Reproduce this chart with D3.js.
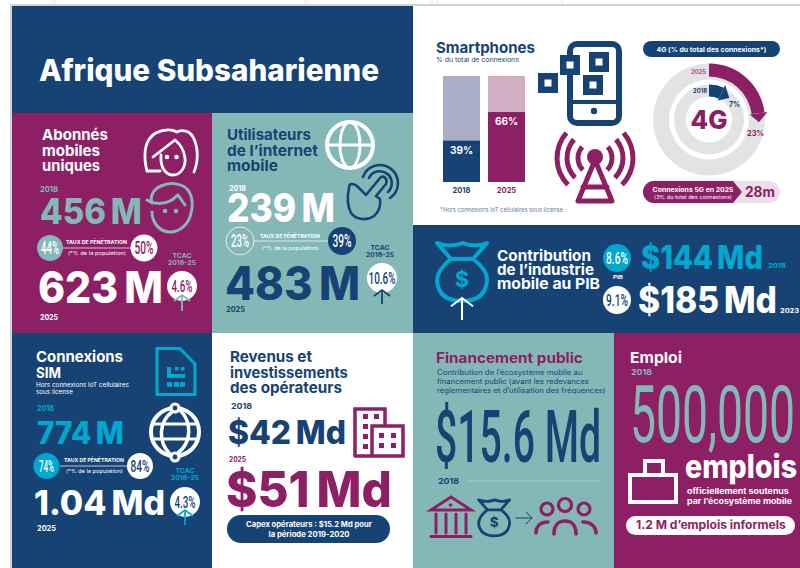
<!DOCTYPE html>
<html lang="fr">
<head>
<meta charset="UTF-8">
<title>Afrique Subsaharienne</title>
<script src="https://d3js.org/d3.v7.min.js"></script>
<style>
  html, body { margin: 0; padding: 0; background: #fff; overflow: hidden; }
  svg { display: block; }
</style>
</head>
<body>
<script>
// values
var smartphoneYears = ['2018', '2025'];
var smartphoneShare = [39, 66];
var fourGYears = ['2018', '2025'];
var fourGShare = [7, 23];
var subscribers = ['456 M', '623 M'];
var subscriberPenetration = ['44%', '50%'];
var internetUsers = ['239 M', '483 M'];
var internetPenetration = ['23%', '39%'];
var simConnections = ['774 M', '1.04 Md'];
var simPenetration = ['74%', '84%'];
var cagr = ['4.6%', '10.6%', '4.3%'];
var gdpContribution = ['$144 Md', '$185 Md'];
var gdpShare = ['8.6%', '9.1%'];
var gdpYears = ['2018', '2023'];
var operatorRevenue = ['$42 Md', '$51 Md'];

var navy = '#164374', purple = '#8d2065', teal = '#84b8b6', cyan = '#00a8d0', white = '#fff';
var wide = 'Inter, "Open Sans", sans-serif';
var narrow = 'Roboto, sans-serif';

var svg = d3.select('body').append('svg').attr('width', 800).attr('height', 568);

function rect(x, y, w, h, fill, g) {
  return (g || svg).append('rect').attr('x', x).attr('y', y).attr('width', w).attr('height', h).attr('fill', fill);
}
// w = width of the text in the picture, the text is squeezed or stretched to fit it
function txt(x, y, s, size, fill, w, o) {
  o = o || {};
  var t = (o.g || svg).append('text').text(s)
    .attr('font-size', size).attr('fill', fill)
    .attr('font-family', o.font || wide)
    .attr('font-weight', o.weight || 700)
    .attr('text-anchor', o.anchor || 'start');
  var k = w ? w / t.node().getComputedTextLength() : 1;
  t.attr('transform', 'translate(' + x + ',' + y + ') scale(' + k.toFixed(3) + ',1)');
  return t;
}
// big figures: heavy, with a short word gap
function big(x, y, s, size, fill, w) {
  return txt(x, y, s.replace(' ', '\u2009'), size, fill, w, { weight: 800 });
}
function badge(cx, cy, r, fill, stroke, s, color, w, size) {
  svg.append('circle').attr('cx', cx).attr('cy', cy).attr('r', r)
    .attr('fill', fill).attr('stroke', stroke || 'none').attr('stroke-width', 0.8);
  txt(cx, cy + size * 0.36, s, size, color, w, { font: narrow, weight: 500, anchor: 'middle' });
}
function line(x1, y1, x2, y2, color, sw) {
  svg.append('line').attr('x1', x1).attr('y1', y1).attr('x2', x2).attr('y2', y2)
    .attr('stroke', color).attr('stroke-width', sw || 1);
}
function icon(d, color, sw, fill) {
  return svg.append('path').attr('d', d).attr('stroke', color).attr('stroke-width', sw)
    .attr('fill', fill || 'none').attr('stroke-linejoin', 'round').attr('stroke-linecap', 'round');
}
function dot(x, y, r, color) {
  svg.append('circle').attr('cx', x).attr('cy', y).attr('r', r).attr('fill', color);
}
function upArrow(x, y1, y2, hw, color, sw) {
  icon('M' + x + ',' + y1 + 'V' + y2 + 'M' + (x - hw) + ',' + (y2 + hw * 0.75) + 'L' + x + ',' + y2 + 'L' + (x + hw) + ',' + (y2 + hw * 0.75), color, sw || 1.5)
    .attr('stroke-linecap', 'butt').attr('stroke-linejoin', 'miter');
}
function penetration(x1, x2, lineX1, lineX2, y, yTop, yBottom, color) {
  line(lineX1, y, lineX2, y, color, 0.7);
  txt(x1, yTop, 'TAUX DE PÉNÉTRATION', 5, color, x2 - x1);
  txt(x1 + 2, yBottom, '(*% de la population)', 5, color, x2 - x1 - 3, { weight: 400 });
}
function tcac(cx, y, color) {
  txt(cx, y, 'TCAC', 6, color, 19, { anchor: 'middle' });
  txt(cx, y + 7, '2018–25', 6, color, 28, { anchor: 'middle' });
}
function bag(x, y, s, color, sw, dollarColor) {
  var g = svg.append('g').attr('transform', 'translate(' + x + ',' + y + ') scale(' + s + ')');
  g.append('path')
    .attr('d', 'M1,3 Q14,8 27,3 Q39,8 51,3 L37,19 Q52,30 51,41 Q49,61 26,61 Q3,61 1,41 Q1,30 15,19 Z M15,19 H37')
    .attr('fill', 'none').attr('stroke', color).attr('stroke-width', sw).attr('stroke-linejoin', 'round');
  txt(26, 47, '$', 22, dollarColor || color, null, { g: g, anchor: 'middle' });
}

// background, scan edges
[52, 55, 305, 308, 432, 437, 562].forEach(function (x) { line(x, 0, x, 5, '#e3e3e3', 1); });
rect(10, 4, 790, 2, '#d2d2d2');
rect(10, 4, 2, 564, '#d2d2d2');

// panels
rect(12, 6, 401, 107, navy);
rect(12, 113, 200, 220, purple);
rect(212, 113, 201, 220, teal);
rect(12, 333, 200, 235, navy);
rect(212, 333, 201, 235, white);
rect(413, 225, 387, 108, navy);
rect(413, 333, 201, 235, teal);
rect(614, 333, 186, 235, purple);

txt(39, 81, 'Afrique Subsaharienne', 30, white, 340, { weight: 800 });

// Abonnés mobiles uniques
txt(42, 140, 'Abonnés', 15, white, 66);
txt(42, 156, 'mobiles', 15, white, 58);
txt(42, 171, 'uniques', 15, white, 58);
icon('M147,171 C143,156 145,143 151,137 C157,130 170,128 177,132 C182,129 190,131 193,137 C198,146 199,160 194,172', white, 2.8);
icon('M153,157 L175,140 C180,144 184,150 185,158 C186,168 180,175 173,175 C166,175 160,168 161,155 M147,171 H160', white, 2.8);
dot(167, 157, 2.3, white);
dot(176.5, 157, 2.3, white);

txt(40, 192, '2018', 7.5, teal, 18);
big(40, 224, subscribers[0], 36, teal, 102);
icon('M152,203 C149,194 156,187 164,185 C172,182 183,184 188,190 C193,197 193,207 191,213 C189,224 180,232 170,232 C160,232 152,223 152,212', teal, 3);
icon('M147,200 C153,204 163,205 172,200 L178,195 L185,205', teal, 3);
dot(165, 211, 2.3, teal);
dot(176, 211, 2.3, teal);

penetration(66, 127, 60, 132, 248, 244, 255, white);
badge(50, 248, 13, teal, null, subscriberPenetration[0], white, 18, 18);
badge(144, 248, 13.5, white, null, subscriberPenetration[1], purple, 19, 18);
tcac(182, 258, teal);
big(38, 303, subscribers[1], 44, white, 125);
badge(182, 286, 15, white, null, cagr[0], purple, 21, 17);
upArrow(182, 311, 295, 8, teal, 1.8);
txt(40, 320, '2025', 7.5, white, 18);

// Utilisateurs de l'internet mobile
txt(227, 140, 'Utilisateurs', 15, navy, 84);
txt(227, 156, 'de l’internet', 15, navy, 91);
txt(227, 171, 'mobile', 15, navy, 51);
svg.append('circle').attr('cx', 350).attr('cy', 145).attr('r', 23).attr('fill', 'none').attr('stroke', white).attr('stroke-width', 4);
svg.append('ellipse').attr('cx', 350).attr('cy', 145).attr('rx', 10).attr('ry', 23).attr('fill', 'none').attr('stroke', white).attr('stroke-width', 3);
line(327, 145, 373, 145, white, 3);

icon('M390,198 A18,18 0 1 0 363,177', navy, 2.6);
icon('M388,192 A12,12 0 1 0 369,178', navy, 2.6);
icon('M380,178 L366,195 L357,186 C353,183 349,183 349,188 C347,197 348,207 351,213 C356,220 367,221 374,216 C379,212 381,205 380,199 L376,196 L386,184 C388,178 383,175 380,178 Z', navy, 2.6, teal);

txt(229, 191, '2018', 7.5, white, 17);
big(227, 222, internetUsers[0], 40, white, 108);
penetration(260, 320, 254, 328, 241, 238, 250, white);
badge(240, 241, 14, teal, white, internetPenetration[0], white, 18, 18);
badge(342, 241, 14, navy, null, internetPenetration[1], white, 19, 18);
tcac(380, 250, navy);
big(225, 300, internetUsers[1], 46, navy, 135);
badge(382, 278, 15, white, null, cagr[1], navy, 27, 17);
upArrow(382, 304, 290, 8, navy, 1.8);
txt(226, 312, '2025', 7.5, navy, 19);

// Smartphones
txt(436, 53, 'Smartphones', 15, navy, 99);
txt(436, 62, '% du total de connexions', 6.5, navy, 83, { weight: 400 });

var barX = d3.scaleBand().domain(smartphoneYears).range([443, 525]).paddingInner(8 / 45);
var barY = d3.scaleLinear().domain([0, 100]).range([182, 76]);
var barBack = ['#a9aec6', '#d3afc3'];
var barFront = [navy, purple];
svg.selectAll('.bar-back').data(smartphoneYears).enter().append('rect')
  .attr('class', 'bar-back')
  .attr('x', function (d) { return barX(d); })
  .attr('y', barY(100))
  .attr('width', barX.bandwidth())
  .attr('height', barY(0) - barY(100))
  .attr('fill', function (d, i) { return barBack[i]; });
svg.selectAll('.bar').data(smartphoneShare).enter().append('rect')
  .attr('class', 'bar')
  .attr('x', function (d, i) { return barX(smartphoneYears[i]); })
  .attr('y', function (d) { return barY(d); })
  .attr('width', barX.bandwidth())
  .attr('height', function (d) { return barY(0) - barY(d); })
  .attr('fill', function (d, i) { return barFront[i]; });
svg.selectAll('.bar-label').data(smartphoneShare).enter().append('text')
  .attr('class', 'bar-label')
  .attr('x', function (d, i) { return barX(smartphoneYears[i]) + barX.bandwidth() / 2; })
  .attr('y', function (d) { return barY(d) + 13; })
  .attr('text-anchor', 'middle').attr('font-family', wide).attr('font-weight', 700)
  .attr('font-size', 10).attr('fill', white)
  .text(function (d) { return d + '%'; });
var yearAxis = svg.append('g').attr('transform', 'translate(0,182)')
  .call(d3.axisBottom(barX).tickSize(0).tickPadding(6));
yearAxis.select('.domain').remove();
yearAxis.selectAll('text')
  .attr('font-family', wide).attr('font-weight', 700).attr('font-size', 7.5)
  .attr('fill', function (d, i) { return barFront[i]; });

txt(440, 212, '*Hors connexions IoT cellulaires sous license', 5.5, '#5f7d9e', 123, { weight: 400 });

// phone
svg.append('rect').attr('x', 570).attr('y', 44).attr('width', 49).attr('height', 79).attr('rx', 7)
  .attr('fill', white).attr('stroke', navy).attr('stroke-width', 6);
rect(570, 100, 49, 4, navy);
dot(594, 111, 3.2, navy);
[[589, 52, 20], [583, 75, 20], [560, 55, 20], [538, 73, 20]].forEach(function (s) {
  rect(s[0], s[1], s[2], s[2], navy);
  rect(s[0] + 6.5, s[1] + 6.5, 7, 7, white);
});

// antenna
[17, 28, 38].forEach(function (r) {
  [[-2.35, -0.85], [0.85, 2.35]].forEach(function (range) {
    svg.append('path').attr('transform', 'translate(595,158)')
      .attr('d', d3.arc().innerRadius(r - 2.5).outerRadius(r + 2.5).startAngle(range[0]).endAngle(range[1])())
      .attr('fill', purple);
  });
});
dot(595, 157, 8, purple);
icon('M595,160 L578,201 H612 Z M583,187 H607', purple, 5);

// 4G
svg.append('rect').attr('x', 643).attr('y', 41).attr('width', 137).attr('height', 16).attr('rx', 8).attr('fill', navy);
txt(711.5, 52, '4G (% du total des connexions*)', 6.5, white, 110, { anchor: 'middle' });

var donut = svg.append('g').attr('transform', 'translate(709,119.5)');
var ringR = [[23, 35], [40, 56]];   // inner ring 2018, outer ring 2025
var ringColor = [navy, purple];
var angle = d3.scaleLinear().domain([0, 100]).range([0, 2 * Math.PI]);
var arcGen = d3.arc();
donut.selectAll('.ring').data(ringR).enter().append('path')
  .attr('class', 'ring')
  .attr('d', function (r) { return arcGen({ innerRadius: r[0], outerRadius: r[1], startAngle: 0, endAngle: 2 * Math.PI }); })
  .attr('fill', '#e2e3e5');
donut.selectAll('.share').data(fourGShare).enter().append('path')
  .attr('class', 'share')
  .attr('d', function (d, i) { return arcGen({ innerRadius: ringR[i][0] + i * 3, outerRadius: ringR[i][1], startAngle: 0, endAngle: angle(d) }); })
  .attr('fill', function (d, i) { return ringColor[i]; });
// arrow heads at the end of both arcs
donut.selectAll('.head').data(fourGShare).enter().append('path')
  .attr('class', 'head')
  .attr('d', function (d, i) {
    var a = angle(d), r0 = ringR[i][0] - 2 + i * 3, r1 = ringR[i][1] + 3;
    var rm = (r0 + r1) / 2, tip = a + (i ? 0.18 : 0.32);
    function p(r, t) { return (r * Math.sin(t)).toFixed(1) + ',' + (-r * Math.cos(t)).toFixed(1); }
    return 'M' + p(r0, a) + 'L' + p(r1, a) + 'L' + p(rm, tip) + 'Z';
  })
  .attr('fill', function (d, i) { return ringColor[i]; });

txt(706, 74, fourGYears[1], 6, '#b0528f', 15, { anchor: 'end' });
txt(707, 93, fourGYears[0], 6, navy, 14, { anchor: 'end' });
txt(729, 107, fourGShare[0] + '%', 7.5, navy, 11);
txt(747, 136, fourGShare[1] + '%', 7.5, purple, 17);
txt(709, 129, '4G', 26, purple, 37, { anchor: 'middle', weight: 800 });

svg.append('rect').attr('x', 643).attr('y', 181).attr('width', 137).attr('height', 22).attr('rx', 11).attr('fill', '#ecdfe7');
icon('M654,181 H733 L742,192 L733,203 H654 A11,11 0 0 1 654,181 Z', purple, 0, purple);
txt(693, 192, 'Connexions 5G en 2025', 6.5, white, 81, { anchor: 'middle' });
txt(693, 199, '(3% du total des connexions)', 5, white, 78, { anchor: 'middle', weight: 400 });
txt(745, 197, '28m', 14, purple, 30);

// Contribution au PIB
bag(436, 240, 1, cyan, 4);
upArrow(462, 320, 298, 11, white, 2);
txt(497, 261, 'Contribution', 15, white, 94);
txt(497, 275, 'de l’industrie', 15, white, 97);
txt(497, 289, 'mobile au PIB', 15, white, 103);
badge(617, 258, 14, cyan, null, gdpShare[0], white, 22, 17);
big(641, 269, gdpContribution[0], 33, cyan, 122);
txt(768, 268, gdpYears[0], 6, cyan, 18);
txt(618, 279, 'PIB', 5, white, 10, { anchor: 'middle' });
badge(617, 300, 14, white, null, gdpShare[1], navy, 22, 17);
big(638, 313, gdpContribution[1], 37, white, 139);
txt(780, 313, gdpYears[1], 6, white, 19);

// Connexions SIM
txt(36, 362, 'Connexions', 15, white, 87);
txt(36, 378, 'SIM', 15, white, 25);
txt(36, 387, 'Hors connexions IoT cellulaires', 6.5, white, 93, { weight: 400 });
txt(36, 394, 'sous license', 6.5, white, 37, { weight: 400 });
icon('M157,348.5 H180 L195,364 V394.5 H157 Z', cyan, 3).attr('stroke-linejoin', 'miter');
rect(167, 367, 4, 11, cyan); rect(167, 374, 18, 4, cyan);
rect(175, 367, 3.5, 3.5, cyan); rect(181, 367, 3.5, 3.5, cyan);
[167, 174, 180].forEach(function (x) { rect(x, 382, 5, 5, cyan); });

txt(37, 411, '2018', 7.5, cyan, 17);
big(37, 444, simConnections[0], 31, cyan, 87);
svg.append('circle').attr('cx', 175).attr('cy', 432).attr('r', 24).attr('fill', 'none').attr('stroke', white).attr('stroke-width', 4);
line(152, 424, 198, 424, white, 3);
line(152, 439, 198, 439, white, 3);
icon('M173,411 C158,422 158,442 170,454', white, 3.5);
icon('M178,453 C192,442 192,422 180,410', white, 3.5);
svg.append('circle').attr('cx', 175).attr('cy', 408).attr('r', 4).attr('fill', navy).attr('stroke', white).attr('stroke-width', 3.2);
svg.append('circle').attr('cx', 175).attr('cy', 457).attr('r', 4).attr('fill', navy).attr('stroke', white).attr('stroke-width', 3.2);

penetration(64, 124, 60, 130, 466, 462, 473, white);
badge(46.5, 466, 13, cyan, null, simPenetration[0], white, 15, 17);
badge(140, 466, 13, white, null, simPenetration[1], navy, 19, 17);
tcac(185, 473, cyan);
big(34, 515, simConnections[1], 34, white, 131);
badge(185, 502, 15, white, null, cagr[2], navy, 21, 17);
upArrow(185, 525, 510, 8, cyan, 1.8);
txt(37, 531, '2025', 7.5, white, 19);

// Revenus et investissements
txt(230, 362, 'Revenus et', 15, navy, 82);
txt(230, 378, 'investissements', 15, navy, 118);
txt(230, 393, 'des opérateurs', 15, navy, 112);
txt(231, 409, '2018', 8, navy, 21);
big(228, 444, operatorRevenue[0], 33, navy, 118);
icon('M355,456 V409 H385 V425 M372,456 V426 H403 V456 H355', purple, 3.5).attr('stroke-linejoin', 'miter');
[[363, 414], [374, 414], [363, 424], [363, 434], [363, 444], [379, 433], [391, 433], [379, 443], [391, 443]].forEach(function (w) {
  rect(w[0], w[1], 5, 5, purple);
});
txt(229, 462, '2025', 7, purple, 17);
big(226, 507, operatorRevenue[1], 50, purple, 166);
svg.append('rect').attr('x', 227).attr('y', 515).attr('width', 163).attr('height', 28).attr('rx', 14).attr('fill', navy);
txt(309, 527, 'Capex opérateurs : $15.2 Md pour', 7.5, white, 126, { anchor: 'middle' });
txt(309, 537, 'la période 2019-2020', 7.5, white, 81, { anchor: 'middle' });

// Financement public
txt(436, 363, 'Financement public', 14, purple, 147);
txt(437, 375, 'Contribution de l’écosystème mobile au', 7, navy, 146, { weight: 400 });
txt(437, 384, 'financement public (avant les redevances', 7, navy, 152, { weight: 400 });
txt(437, 393, 'réglementaires et d’utilisation des fréquences)', 7, navy, 169, { weight: 400 });
txt(435, 462, '$15.6 Md', 73, navy, 166, { font: narrow, weight: 500 });
txt(438, 484, '2018', 7.5, navy, 21);
line(467, 481, 601, 481, '#a8cfcf', 1.2);

icon('M451,497 L431,510 H471 Z M436,514 V533 M446,514 V533 M456,514 V533 M466,514 V533 M431,536.5 H471', purple, 3).attr('stroke-linejoin', 'miter');
dot(450.5, 505, 1.8, purple);
bag(478, 498, 0.62, navy, 4.5);
icon('M516,518 H532 M526,512 L532,518 L526,524', navy, 1);
[[547, 509, 6], [565, 505, 6.5], [584, 509, 6]].forEach(function (h) {
  svg.append('circle').attr('cx', h[0]).attr('cy', h[1]).attr('r', h[2]).attr('fill', 'none').attr('stroke', purple).attr('stroke-width', 3.2);
});
icon('M536,533 C536,526 541,522 548,522 M554,534 C554,526 558,521 565,521 C572,521 576,526 576,534 M583,522 C590,522 596,526 596,533', purple, 3.6);

// Emploi
txt(630, 363, 'Emploi', 15, white, 52);
txt(631, 375, '2018', 7.5, teal, 21);
txt(630, 442, '500,000', 80, teal, 165, { font: narrow, weight: 400 });
icon('M630,475 H676 V502 H630 Z M645,475 V461 H663 V475', white, 4).attr('stroke-linejoin', 'miter');
txt(685, 478, 'emplois', 32, white, 112, { weight: 800 });
txt(687, 494, 'officiellement soutenus', 7.5, white, 102);
txt(687, 504, 'par l’écosystème mobile', 7.5, white, 105);
svg.append('rect').attr('x', 626).attr('y', 516).attr('width', 169).attr('height', 19).attr('rx', 9.5).attr('fill', white);
txt(636, 529, '1.2 M d’emplois informels', 11.5, purple, 150);
</script>
</body>
</html>
